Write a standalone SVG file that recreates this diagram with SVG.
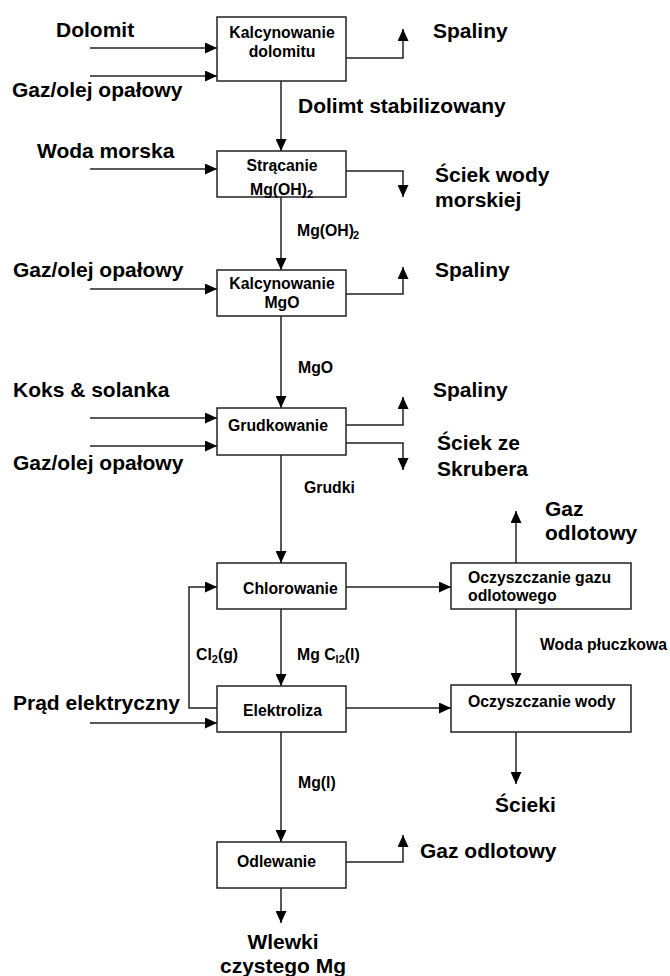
<svg xmlns="http://www.w3.org/2000/svg" width="670" height="976" viewBox="0 0 670 976">
  <style>
    text { font-family: "Liberation Sans", Arial, sans-serif; font-weight: bold; fill: #000; }
    .big { font-size: 21px; }
    .sm { font-size: 15.8px; }
    .mid { text-anchor: middle; }
    .sub { font-size: 11px; }
    .box { fill: #fff; stroke: #222; stroke-width: 1.5; }
    .flow { fill: none; stroke: #222; stroke-width: 1.5; marker-end: url(#arrow); }
  </style>
  <defs>
    <marker id="arrow" viewBox="0 0 12 11" refX="12" refY="5.5" markerWidth="12" markerHeight="11" markerUnits="userSpaceOnUse" orient="auto">
      <path d="M0,0 L12,5.5 L0,11 Z" fill="#000"/>
    </marker>
  </defs>

  <rect width="670" height="976" fill="#fff"/>

  <!-- connectors -->
  <g id="connectors">
    <path class="flow" d="M90,48 H217"/>
    <path class="flow" d="M90,76 H217"/>
    <path class="flow" d="M346,58 H403 V29"/>
    <path class="flow" d="M281,81 V151"/>
    <path class="flow" d="M90,169 H217"/>
    <path class="flow" d="M346,171 H403 V197"/>
    <path class="flow" d="M281,197 V270"/>
    <path class="flow" d="M90,289 H217"/>
    <path class="flow" d="M346,294 H403 V267"/>
    <path class="flow" d="M281,316 V408"/>
    <path class="flow" d="M90,418 H217"/>
    <path class="flow" d="M90,446 H217"/>
    <path class="flow" d="M346,425 H403 V397"/>
    <path class="flow" d="M346,443 H403 V470"/>
    <path class="flow" d="M281,455 V563"/>
    <path class="flow" d="M346,587 H451"/>
    <path class="flow" d="M516,563 V511"/>
    <path class="flow" d="M516,609 V685"/>
    <path class="flow" d="M281,609 V686"/>
    <path class="flow" d="M217,708 H189 V587 H217"/>
    <path class="flow" d="M90,723 H217"/>
    <path class="flow" d="M346,708 H451"/>
    <path class="flow" d="M516,732 V784"/>
    <path class="flow" d="M281,732 V842"/>
    <path class="flow" d="M346,862 H403 V835"/>
    <path class="flow" d="M281,888 V923"/>
  </g>

  <!-- process nodes -->
  <g id="kalcynowanie-dolomitu">
    <rect class="box" x="217" y="17" width="129" height="64"/>
    <text class="sm mid" x="282" y="38">Kalcynowanie</text>
    <text class="sm mid" x="282" y="57">dolomitu</text>
  </g>
  <g id="stracanie">
    <rect class="box" x="217" y="151" width="129" height="46"/>
    <text class="sm mid" x="282" y="171">Strącanie</text>
    <text class="sm" x="250" y="195">Mg(OH)<tspan class="sub" dy="3">2</tspan></text>
  </g>
  <g id="kalcynowanie-mgo">
    <rect class="box" x="217" y="270" width="129" height="46"/>
    <text class="sm mid" x="282" y="289">Kalcynowanie</text>
    <text class="sm mid" x="282" y="308">MgO</text>
  </g>
  <g id="grudkowanie">
    <rect class="box" x="217" y="408" width="129" height="47"/>
    <text class="sm mid" x="278" y="431">Grudkowanie</text>
  </g>
  <g id="chlorowanie">
    <rect class="box" x="217" y="563" width="129" height="46"/>
    <text class="sm" x="243" y="594">Chlorowanie</text>
  </g>
  <g id="elektroliza">
    <rect class="box" x="217" y="686" width="129" height="46"/>
    <text class="sm" x="243" y="716">Elektroliza</text>
  </g>
  <g id="odlewanie">
    <rect class="box" x="217" y="842" width="129" height="46"/>
    <text class="sm" x="237" y="867">Odlewanie</text>
  </g>
  <g id="oczyszczanie-gazu">
    <rect class="box" x="451" y="563" width="180" height="46"/>
    <text class="sm" x="468" y="583">Oczyszczanie gazu</text>
    <text class="sm" x="468" y="601">odlotowego</text>
  </g>
  <g id="oczyszczanie-wody">
    <rect class="box" x="451" y="685" width="180" height="47"/>
    <text class="sm" x="468" y="707">Oczyszczanie wody</text>
  </g>

  <!-- stream labels -->
  <g id="labels">
    <text class="big" x="56" y="37">Dolomit</text>
    <text class="big" x="12" y="97">Gaz/olej opałowy</text>
    <text class="big" x="433" y="38">Spaliny</text>
    <text class="big" x="298" y="113">Dolimt stabilizowany</text>
    <text class="big" x="37" y="158">Woda morska</text>
    <text class="big" x="435" y="182">Ściek wody</text>
    <text class="big" x="435" y="207">morskiej</text>
    <text class="sm" x="297" y="236">Mg(OH)<tspan class="sub" dy="3" dx="-1">2</tspan></text>
    <text class="big" x="13" y="277">Gaz/olej opałowy</text>
    <text class="big" x="435" y="277">Spaliny</text>
    <text class="sm" x="298" y="373">MgO</text>
    <text class="big" x="13" y="397">Koks &amp; solanka</text>
    <text class="big" x="433" y="397">Spaliny</text>
    <text class="big" x="437" y="450">Ściek ze</text>
    <text class="big" x="437" y="476">Skrubera</text>
    <text class="big" x="13" y="470">Gaz/olej opałowy</text>
    <text class="sm" x="304" y="493">Grudki</text>
    <text class="big" x="545" y="516">Gaz</text>
    <text class="big" x="545" y="540">odlotowy</text>
    <text class="sm" x="196" y="660">Cl<tspan class="sub" dy="3">2</tspan><tspan dy="-3">(g)</tspan></text>
    <text class="sm" x="297" y="660">Mg C<tspan class="sub" dy="3">l2</tspan><tspan dy="-3">(l)</tspan></text>
    <text class="sm" x="540" y="650">Woda płuczkowa</text>
    <text class="big" x="13" y="710">Prąd elektryczny</text>
    <text class="sm" x="298" y="788">Mg(l)</text>
    <text class="big" x="495" y="812">Ścieki</text>
    <text class="big" x="420" y="858">Gaz odlotowy</text>
    <text class="big mid" x="283" y="949">Wlewki</text>
    <text class="big mid" x="283" y="973">czystego Mg</text>
  </g>
</svg>
